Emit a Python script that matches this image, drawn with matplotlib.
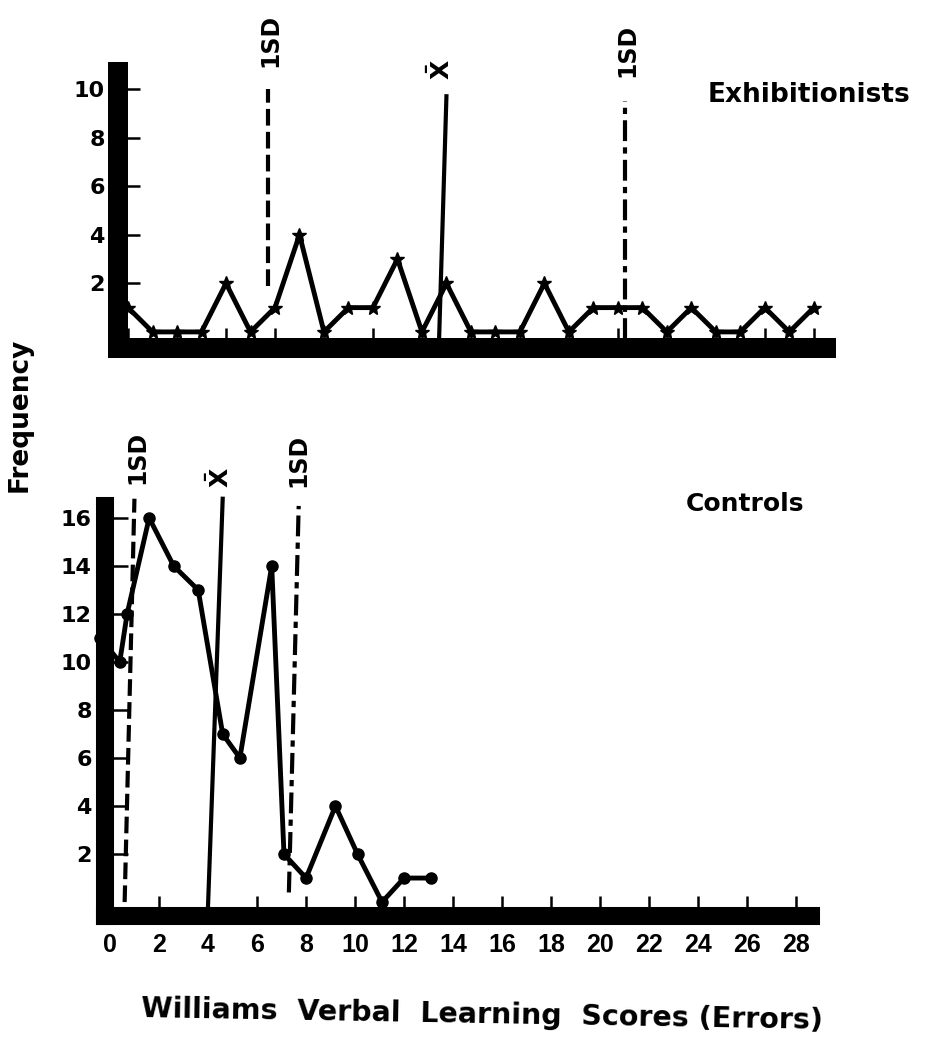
import matplotlib
matplotlib.use("Agg")
import matplotlib.pyplot as plt

# ---- data ----
# Exhibitionists: frequency per error score 0..28
exh_scores = list(range(29))
exh_freq = [1, 0, 0, 0, 2, 0, 1, 4, 0, 1, 1, 3, 0, 2, 0,
            0, 0, 2, 0, 1, 1, 1, 0, 1, 0, 0, 1, 0, 1]
exh_mean = 12.9
exh_sd_low = 5.7
exh_sd_high = 20.3

# Controls
ctrl_scores = [-0.4, 0.4, 0.7, 1.6, 2.6, 3.6, 4.6, 5.3, 6.6, 7.1,
               8.0, 9.2, 10.1, 11.1, 12.0, 13.1]
ctrl_freq = [11, 10, 12, 16, 14, 13, 7, 6, 14, 2, 1, 4, 2, 0, 1, 1]
ctrl_mean = (4.0, 4.6)       # bottom, top (hand drawn, slightly slanted)
ctrl_sd_low = (0.6, 1.0)
ctrl_sd_high = (7.3, 7.7)

x_ticks = list(range(0, 29, 2))
exh_yticks = [2, 4, 6, 8, 10]
ctrl_yticks = [2, 4, 6, 8, 10, 12, 14, 16]

BOLD = dict(fontweight="bold", family="DejaVu Sans")

fig = plt.figure(figsize=(9.27, 10.49), dpi=100)
ax1 = fig.add_axes([0.1273, 0.6683, 0.7638, 0.2631])
ax2 = fig.add_axes([0.1133, 0.1268, 0.7616, 0.3909])


def style(ax, spine_lw, xlen, ylen):
    for s in ["top", "right"]:
        ax.spines[s].set_visible(False)
    for s in ["left", "bottom"]:
        ax.spines[s].set_linewidth(spine_lw)
        ax.spines[s].set_capstyle("projecting")
        ax.spines[s].set_color("black")
    ax.tick_params(axis="x", direction="in", length=xlen, width=1.8)
    ax.tick_params(axis="y", direction="in", length=ylen, width=1.8,
                   pad=9.5, labelsize=16)
    for lab in ax.get_yticklabels():
        lab.set_fontweight("bold")


# ===== Exhibitionists =====
ax1.set_xlim(-0.41, 28.5)
ax1.set_ylim(-0.66, 10.7)
ax1.set_xticks(x_ticks)
ax1.set_xticklabels([])
ax1.set_yticks(exh_yticks)
style(ax1, 14.4, 14.4, 16)

ax1.plot(exh_scores, exh_freq, color="black", lw=3.5, marker="*",
         markersize=10, solid_joinstyle="round", clip_on=False, zorder=3)

ax1.plot([exh_sd_low, exh_sd_low], [1.9, 10.0], color="black", lw=3,
         linestyle=(0, (4, 1.5)))
ax1.plot([exh_mean + 0.1, exh_mean - 0.2], [9.7, -0.3], color="black", lw=3)
ax1.plot([exh_sd_high, exh_sd_high], [-0.3, 9.5], color="black", lw=3,
         linestyle=(0, (5, 1.5, 1.5, 1.5)))

ax1.text(exh_sd_low + 0.1, 12.0, "1SD", rotation=90, ha="center",
         va="center", fontsize=17, clip_on=False, **BOLD)
ax1.text(exh_mean - 0.1, 10.8, r"$\mathbf{\bar{X}}$", rotation=90,
         ha="center", va="center", fontsize=18, clip_on=False)
ax1.text(exh_sd_high + 0.1, 11.6, "1SD", rotation=90, ha="center",
         va="center", fontsize=17, clip_on=False, **BOLD)
ax1.text(27.8, 9.75, "Exhibitionists", ha="center", va="center",
         fontsize=19, clip_on=False, **BOLD)

# ===== Controls =====
ax2.set_xlim(-0.2, 28.6)
ax2.set_ylim(-0.58, 16.5)
ax2.set_xticks(x_ticks)
ax2.set_yticks(ctrl_yticks)
style(ax2, 13, 14.4, 16.5)
ax2.tick_params(axis="x", pad=12)
for lab in ax2.get_xticklabels():
    lab.set_fontweight("bold")
    lab.set_family("Liberation Sans")
    lab.set_fontsize(18)

ax2.plot(ctrl_scores, ctrl_freq, color="black", lw=3.5, marker="o",
         markersize=8, solid_joinstyle="round", clip_on=False, zorder=3)

ax2.plot(ctrl_sd_low, [0, 16.8], color="black", lw=3,
         linestyle=(0, (4, 1.5)), clip_on=False)
ax2.plot(ctrl_mean, [-0.2, 16.8], color="black", lw=3, clip_on=False)
ax2.plot(ctrl_sd_high, [0.4, 16.5], color="black", lw=3,
         linestyle=(0, (5, 1.5, 1.5, 1.5)), clip_on=False)

ax2.text(1.1, 18.5, "1SD", rotation=90, ha="center", va="center",
         fontsize=17, clip_on=False, **BOLD)
ax2.text(4.5, 17.7, r"$\mathbf{\bar{X}}$", rotation=90, ha="center",
         va="center", fontsize=18, clip_on=False)
ax2.text(7.7, 18.4, "1SD", rotation=90, ha="center", va="center",
         fontsize=17, clip_on=False, **BOLD)
ax2.text(25.9, 16.6, "Controls", ha="center", va="center", fontsize=18,
         clip_on=False, **BOLD)

fig.text(20 / 927, 1 - 415 / 1049, "Frequency", rotation=90, ha="center",
         va="center", fontsize=19, **BOLD)
fig.text(482 / 927, 1 - 1015 / 1049,
         "Williams  Verbal  Learning  Scores (Errors)", ha="center",
         va="center", fontsize=20.5, rotation=-1, **BOLD)

fig.savefig("out.png", dpi=100)
